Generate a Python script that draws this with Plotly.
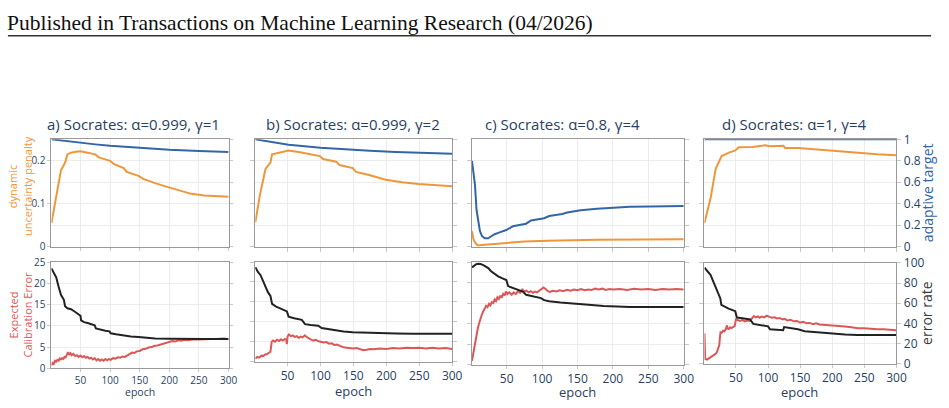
import plotly.graph_objects as go

W, H = 949, 408

# ---------------- data ----------------
header_text = "Published in Transactions on Machine Learning Research (04/2026)"
titles = ["a) Socrates: α=0.999, γ=1", "b) Socrates: α=0.999, γ=2",
          "c) Socrates: α=0.8, γ=4", "d) Socrates: α=1, γ=4"]

# dynamic uncertainty penalty (left axis, top row)
a_pen_ep = [1, 9, 17, 22, 25, 28, 34, 42, 50, 62, 75, 81, 90, 100, 106, 115, 123, 128, 140, 148, 156, 165, 176, 192, 215, 237, 259, 282, 300]
a_pen = [.055, .12, .178, .19, .200, .215, .219, .221, .222, .219, .215, .208, .204, .200, .193, .188, .183, .174, .169, .165, .158, .153, .148, .141, .131, .123, .119, .117, .116]
b_pen_ep = [1, 8, 16.5, 24, 26.5, 39, 51.6, 69, 99, 104, 124, 129, 149, 154, 174, 199, 224, 249, 274.5, 300]
b_pen = [.0565, .12, .181, .196, .215, .220, .224, .220, .211, .204, .198, .190, .183, .174, .167, .156, .150, .146, .143, .141]
c_pen_ep = [1, 3, 5, 9, 19, 47, 75, 108, 178, 300]
c_pen = [.036, .018, .0104, .003, .0045, .009, .012, .014, .0163, .017]
d_pen_ep = [1, 10.7, 18.4, 23.6, 27.7, 39, 49, 54.5, 75, 95.5, 103, 124, 126.5, 147, 178, 203, 239.5, 270, 300]
d_pen = [.055, .1146, .1815, .196, .211, .219, .224, .2315, .232, .236, .234, .235, .23, .23, .226, .2225, .219, .215, .213]

# adaptive target (right axis, top row)
a_tgt_ep = [1, 25, 48, 75, 100, 150, 200, 250, 300]
a_tgt = [1.0, .983, .970, .953, .940, .919, .903, .891, .881]
b_tgt_ep = [1, 25, 51.6, 100, 139, 175, 214, 260, 300]
b_tgt = [1.0, .975, .949, .922, .905, .893, .881, .872, .866]
c_tgt_ep = [1, 3, 5.2, 7.5, 10, 12.2, 15, 19, 23.8, 28, 33, 40, 49.5, 58.7, 77.4, 84.4, 103, 110, 128.6, 135.5, 154.3, 177.5, 200.8, 224, 252, 300]
c_tgt = [.80, .69, .578, .339, .22, .146, .10, .078, .078, .095, .116, .133, .155, .19, .214, .244, .265, .286, .304, .318, .339, .354, .363, .372, .375, .378]
d_tgt_ep = [1, 300]
d_tgt = [1.0, 1.0]

# expected calibration error (left axis, bottom row)
a_ece_ep = [1, 3, 5, 7, 9, 11, 13, 15, 17, 19, 21, 23, 25, 27, 29, 31, 33, 35, 38, 41, 44, 47, 50, 53, 56, 59, 62, 65, 68, 71, 74, 77, 80, 83, 86, 89, 92, 95, 98, 101, 105, 109, 113, 117, 121, 125, 129, 133, 137, 141, 145, 150, 155, 160, 165, 170, 175, 180, 185, 190, 195, 200, 205, 210, 215, 220, 225, 230, 240, 250, 260, 270, 280, 290, 300]
a_ece = [0.7, 1.3, 1.1, 1.8, 1.6, 2.0, 1.8, 2.3, 2.1, 2.4, 2.2, 2.7, 2.6, 3.3, 3.8, 3.3, 3.6, 3.1, 3.4, 2.9, 3.1, 2.7, 3.0, 2.6, 2.9, 2.5, 2.7, 2.3, 2.5, 2.1, 2.4, 1.9, 2.2, 1.8, 2.1, 1.8, 2.2, 1.9, 2.2, 2.0, 2.4, 2.3, 2.6, 2.5, 2.8, 2.7, 3.1, 3.3, 3.7, 3.6, 4.0, 4.1, 4.5, 4.6, 4.9, 5.0, 5.3, 5.4, 5.6, 5.7, 6.0, 6.1, 6.4, 6.3, 6.6, 6.5, 6.7, 6.6, 6.8, 6.8, 6.9, 6.9, 6.9, 7.0, 6.9]
b_ece_ep = [1, 4, 7, 10, 13, 16, 19, 22, 24, 26, 28, 31, 34, 37, 40, 43, 46, 48, 49, 50, 52, 55, 58, 61, 64, 67, 70, 73, 76, 78, 81, 85, 89, 93, 97, 101, 105, 109, 113, 117, 121, 125, 130, 135, 140, 145, 150, 155, 160, 165, 170, 175, 180, 190, 200, 210, 220, 230, 240, 250, 260, 270, 280, 290, 300]
b_ece = [0.8, 1.2, 1.0, 1.5, 1.4, 1.8, 1.9, 2.3, 2.5, 5.0, 5.3, 5.0, 5.5, 5.2, 5.6, 5.3, 5.7, 5.5, 4.4, 6.3, 6.8, 6.4, 6.6, 6.2, 6.4, 6.0, 6.3, 6.1, 6.6, 6.3, 5.9, 5.6, 5.3, 5.5, 5.1, 5.0, 4.8, 4.9, 4.5, 4.6, 4.2, 4.3, 3.9, 3.6, 3.5, 3.4, 3.3, 3.4, 3.1, 2.9, 3.0, 3.2, 3.1, 3.3, 3.2, 3.4, 3.3, 3.5, 3.4, 3.5, 3.3, 3.5, 3.3, 3.4, 3.2]
c_ece_ep = [1, 3, 5, 7, 9, 11, 13, 15, 17, 19, 21, 23, 25, 27, 29, 31, 33, 35, 37, 39, 41, 43, 45, 47, 49, 51, 54, 57, 60, 63, 66, 69, 72, 75, 78, 81, 84, 87, 90, 93, 96, 99, 102, 105, 108, 111, 115, 120, 125, 130, 135, 140, 145, 150, 155, 160, 165, 170, 175, 180, 185, 190, 195, 200, 210, 220, 230, 240, 250, 260, 270, 280, 290, 300]
c_ece = [0.9, 3.0, 4.9, 7.0, 8.6, 10.0, 11.3, 12.2, 13.0, 13.6, 14.3, 14.0, 14.8, 14.4, 15.2, 15.0, 15.9, 15.5, 16.4, 16.0, 16.8, 16.3, 17.2, 16.8, 17.8, 17.2, 17.6, 17.0, 17.6, 17.2, 17.9, 17.5, 18.3, 17.8, 18.0, 17.6, 17.9, 17.5, 17.8, 17.6, 18.0, 18.3, 18.8, 18.4, 17.9, 17.7, 18.0, 17.8, 18.1, 17.9, 18.2, 18.0, 18.3, 18.1, 18.4, 18.1, 18.3, 18.2, 18.5, 18.3, 18.5, 18.2, 18.4, 18.3, 18.4, 18.2, 18.5, 18.3, 18.4, 18.2, 18.4, 18.3, 18.4, 18.3]
d_ece_ep = [1, 2, 5, 8, 11, 14, 17, 20, 22, 24, 25, 26, 28, 30, 32, 34, 36, 37, 39, 41, 43, 46, 48, 50, 53, 56, 60, 64, 68, 72, 75, 78, 81, 84, 87, 90, 94, 98, 102, 106, 110, 114, 118, 122, 126, 130, 135, 140, 145, 150, 155, 160, 165, 170, 175, 180, 190, 200, 210, 220, 230, 240, 250, 260, 270, 280, 290, 300]
d_ece = [7.5, 1.2, 1.0, 1.3, 1.5, 1.9, 2.3, 2.7, 3.5, 4.6, 6.5, 7.8, 7.7, 8.2, 8.0, 8.5, 9.5, 8.7, 8.6, 9.0, 8.8, 9.1, 9.3, 11.0, 10.8, 10.6, 10.8, 10.5, 10.7, 10.6, 11.2, 11.8, 11.5, 11.7, 11.4, 11.7, 11.5, 11.9, 11.6, 11.4, 11.5, 11.2, 11.3, 11.0, 11.1, 10.7, 10.9, 10.5, 10.6, 10.2, 10.4, 10.0, 10.1, 9.8, 10.0, 9.7, 9.6, 9.5, 9.3, 9.2, 9.0, 8.8, 8.8, 8.6, 8.5, 8.5, 8.4, 8.3]

# error rate (right axis, bottom row)
a_err_ep = [1, 5, 9, 13, 17, 22, 24, 28, 34, 40, 47, 50, 51, 56, 62, 70, 74, 76, 85, 92, 99, 101, 110, 115, 125, 127, 135, 148, 160, 176, 200, 220, 260, 300]
a_err = [94, 90, 85.6, 77, 69.2, 64.4, 58.4, 56.5, 55.6, 53.5, 51.2, 49.5, 45.2, 43.5, 42.6, 41.5, 40.4, 37.6, 36.2, 35.4, 34.8, 33.0, 32.0, 31.5, 30.9, 30.2, 29.9, 29.4, 28.7, 28.2, 27.8, 27.6, 27.5, 27.6]
b_err_ep = [1, 5, 9, 13, 16.5, 20, 24, 26.5, 32, 39, 49, 51.6, 60, 71.6, 76.6, 85, 96.7, 101.7, 110, 124, 135, 149, 170, 189, 215, 239.5, 270, 300]
b_err = [94.8, 90, 86.8, 80, 74, 70, 66, 58, 55.5, 53.2, 50.4, 45.2, 43.5, 42, 37.6, 36.8, 36, 33.8, 32.8, 31.2, 30.3, 29.6, 29.0, 28.6, 28.2, 28, 28, 28]
c_err_ep = [1, 4, 7, 10, 13, 17, 21, 24, 28, 33, 38, 44, 49.5, 52, 58, 65, 72.7, 77.4, 85, 92, 98.4, 103, 110, 126, 140, 154, 170, 187, 205, 224, 260, 300]
c_err = [94.8, 96.5, 97.8, 98.2, 98.0, 97.0, 95.5, 94, 91, 88.4, 86, 84, 82.4, 76.5, 75, 73, 71.2, 68, 66.8, 65.8, 64.8, 62.8, 61.8, 60.4, 59.4, 58.8, 58, 57.2, 56.6, 56.2, 56.0, 56.0]
d_err_ep = [1, 5, 10.3, 15.4, 20.6, 25.7, 27.2, 32, 38.6, 48.9, 51.4, 60, 69.4, 72, 77, 85, 95, 100, 103, 115, 123.5, 125, 135, 146.6, 157, 165, 177.5, 190, 203, 220, 239, 270, 300]
d_err = [95.3, 92, 88.3, 80.4, 72.6, 64.7, 58.4, 56.5, 54.6, 52.1, 45.7, 45, 44.2, 43.8, 39.4, 38.6, 37.9, 37, 34.1, 33.6, 33.1, 36.3, 35.2, 34.1, 32.2, 31.8, 30.9, 30, 29.3, 28.8, 28.4, 28.3, 28.4]

x_ticks = [50, 100, 150, 200, 250, 300]

# ---------------- styling ----------------
ORANGE = '#EF963B'
BLUE = '#3466A6'
RED = '#DB5858'
BLACK = '#222222'
GRID = '#ececec'
LINE = '#9a9a9a'
TICK = '#c8c8c8'
TXT = '#2a3f5f'

# pixel geometry of each panel: left, right, top-row (top,bottom), bottom-row (top,bottom), font size
geo = [
    dict(l=52, r=231, top=(136, 248), bot=(264, 375), fs=10, tl=3),
    dict(l=258, r=457, top=(136, 248), bot=(264, 368), fs=12, tl=4),
    dict(l=477, r=691, top=(136, 248), bot=(264, 371), fs=12, tl=4),
    dict(l=712, r=906, top=(136, 248), bot=(265, 370), fs=12, tl=4),
]
series = [
    (a_pen_ep, a_pen, a_tgt_ep, a_tgt, a_ece_ep, a_ece, a_err_ep, a_err),
    (b_pen_ep, b_pen, b_tgt_ep, b_tgt, b_ece_ep, b_ece, b_err_ep, b_err),
    (c_pen_ep, c_pen, c_tgt_ep, c_tgt, c_ece_ep, c_ece, c_err_ep, c_err),
    (d_pen_ep, d_pen, d_tgt_ep, d_tgt, d_ece_ep, d_ece, d_err_ep, d_err),
]


def nm(prefix, n):
    return prefix if n == 1 else f"{prefix}{n}"


fig = go.Figure()
layout = dict(width=W, height=H, margin=dict(l=0, r=0, t=0, b=0),
              paper_bgcolor='white', plot_bgcolor='white', showlegend=False,
              font=dict(family='Open Sans', color=TXT))

for i, g in enumerate(geo):
    pe, pv, te, tv, ee, ev, re_, rv = series[i]
    rows = [
        (g['top'], (0, 0.25, 0.1), (0, 1, 0.2), (pe, pv, ORANGE), (te, tv, BLUE), False),
        (g['bot'], (0, 25, 5), (0, 100, 20), (ee, ev, RED), (re_, rv, BLACK), True),
    ]
    for r, (tb, lrng, rrng, ltr, rtr, xlab) in enumerate(rows):
        xn = 2 * i + r + 1
        yl = 4 * i + 2 * r + 1
        yr = yl + 1
        dom_y = [1 - tb[1] / H, 1 - tb[0] / H]
        common = dict(showgrid=True, gridcolor=GRID, gridwidth=1, zeroline=False,
                      ticks='outside', ticklen=g['tl'], tickcolor=TICK,
                      tickfont=dict(size=g['fs'], color=TXT))
        xcommon = dict(common)
        if xlab:
            xcommon['ticklen'] = 3
        layout['xaxis' + ('' if xn == 1 else str(xn))] = dict(
            domain=[g['l'] / W, g['r'] / W], anchor=nm('y', yl), range=[1, 300],
            tickvals=x_ticks, showline=True, linecolor=LINE, linewidth=1, mirror=True,
            showticklabels=xlab, **xcommon)
        layout['yaxis' + ('' if yl == 1 else str(yl))] = dict(
            domain=dom_y, anchor=nm('x', xn), range=[lrng[0], lrng[1]], dtick=lrng[2], tick0=0,
            showline=True, linecolor=LINE, linewidth=1, mirror=True,
            showticklabels=(i == 0), **common)
        layout['yaxis' + str(yr)] = dict(
            domain=dom_y, anchor=nm('x', xn), overlaying=nm('y', yl), side='right',
            range=[rrng[0], rrng[1]], dtick=rrng[2], tick0=0, showline=False,
            showticklabels=(i == 3), **common)
        fig.add_trace(go.Scatter(x=ltr[0], y=ltr[1], mode='lines',
                                 line=dict(color=ltr[2], width=2),
                                 xaxis=nm('x', xn), yaxis=nm('y', yl), hoverinfo='skip'))
        fig.add_trace(go.Scatter(x=rtr[0], y=rtr[1], mode='lines',
                                 line=dict(color=rtr[2], width=2),
                                 xaxis=nm('x', xn), yaxis=nm('y', yr), hoverinfo='skip'))


def ann(text, px, py, size, color=TXT, angle=0, xanchor='center', family='Open Sans'):
    return dict(text=text, x=px / W, y=1 - py / H, xref='paper', yref='paper',
                showarrow=False, xanchor=xanchor, yanchor='middle', textangle=angle,
                borderpad=0,
                font=dict(size=size, color=color, family=family))


annotations = [
    ann(header_text, 6, 14.5, 21.5, color='#111111', xanchor='left', family='Liberation Serif'),
    ann(titles[0], 134.5, 120.5, 15),
    ann(titles[1], 357, 120.5, 15),
    ann(titles[2], 568, 120.5, 15),
    ann(titles[3], 802, 120.5, 15),
    ann("dynamic<br>uncertainty penalty", 20, 185, 11, color=ORANGE, angle=-90),
    ann("Expected<br>Calibration Error", 21, 319, 11, color=RED, angle=-90),
    ann("adaptive target", 937, 192, 14, color=BLUE, angle=-90),
    ann("error rate", 937, 317, 14, color='#3a3a3a', angle=-90),
    ann("epoch", 141.5, 399.5, 10.5),
    ann("epoch", 357.5, 399, 13),
    ann("epoch", 584, 399.5, 13),
    ann("epoch", 808, 399.5, 13),
]
layout['annotations'] = annotations
layout['shapes'] = [dict(type='line', xref='paper', yref='paper',
                         x0=8 / W, x1=941 / W, y0=1 - 28 / H, y1=1 - 28 / H,
                         line=dict(color='#333333', width=1.5))]

fig.update_layout(**layout)
fig.write_html("out.html")
